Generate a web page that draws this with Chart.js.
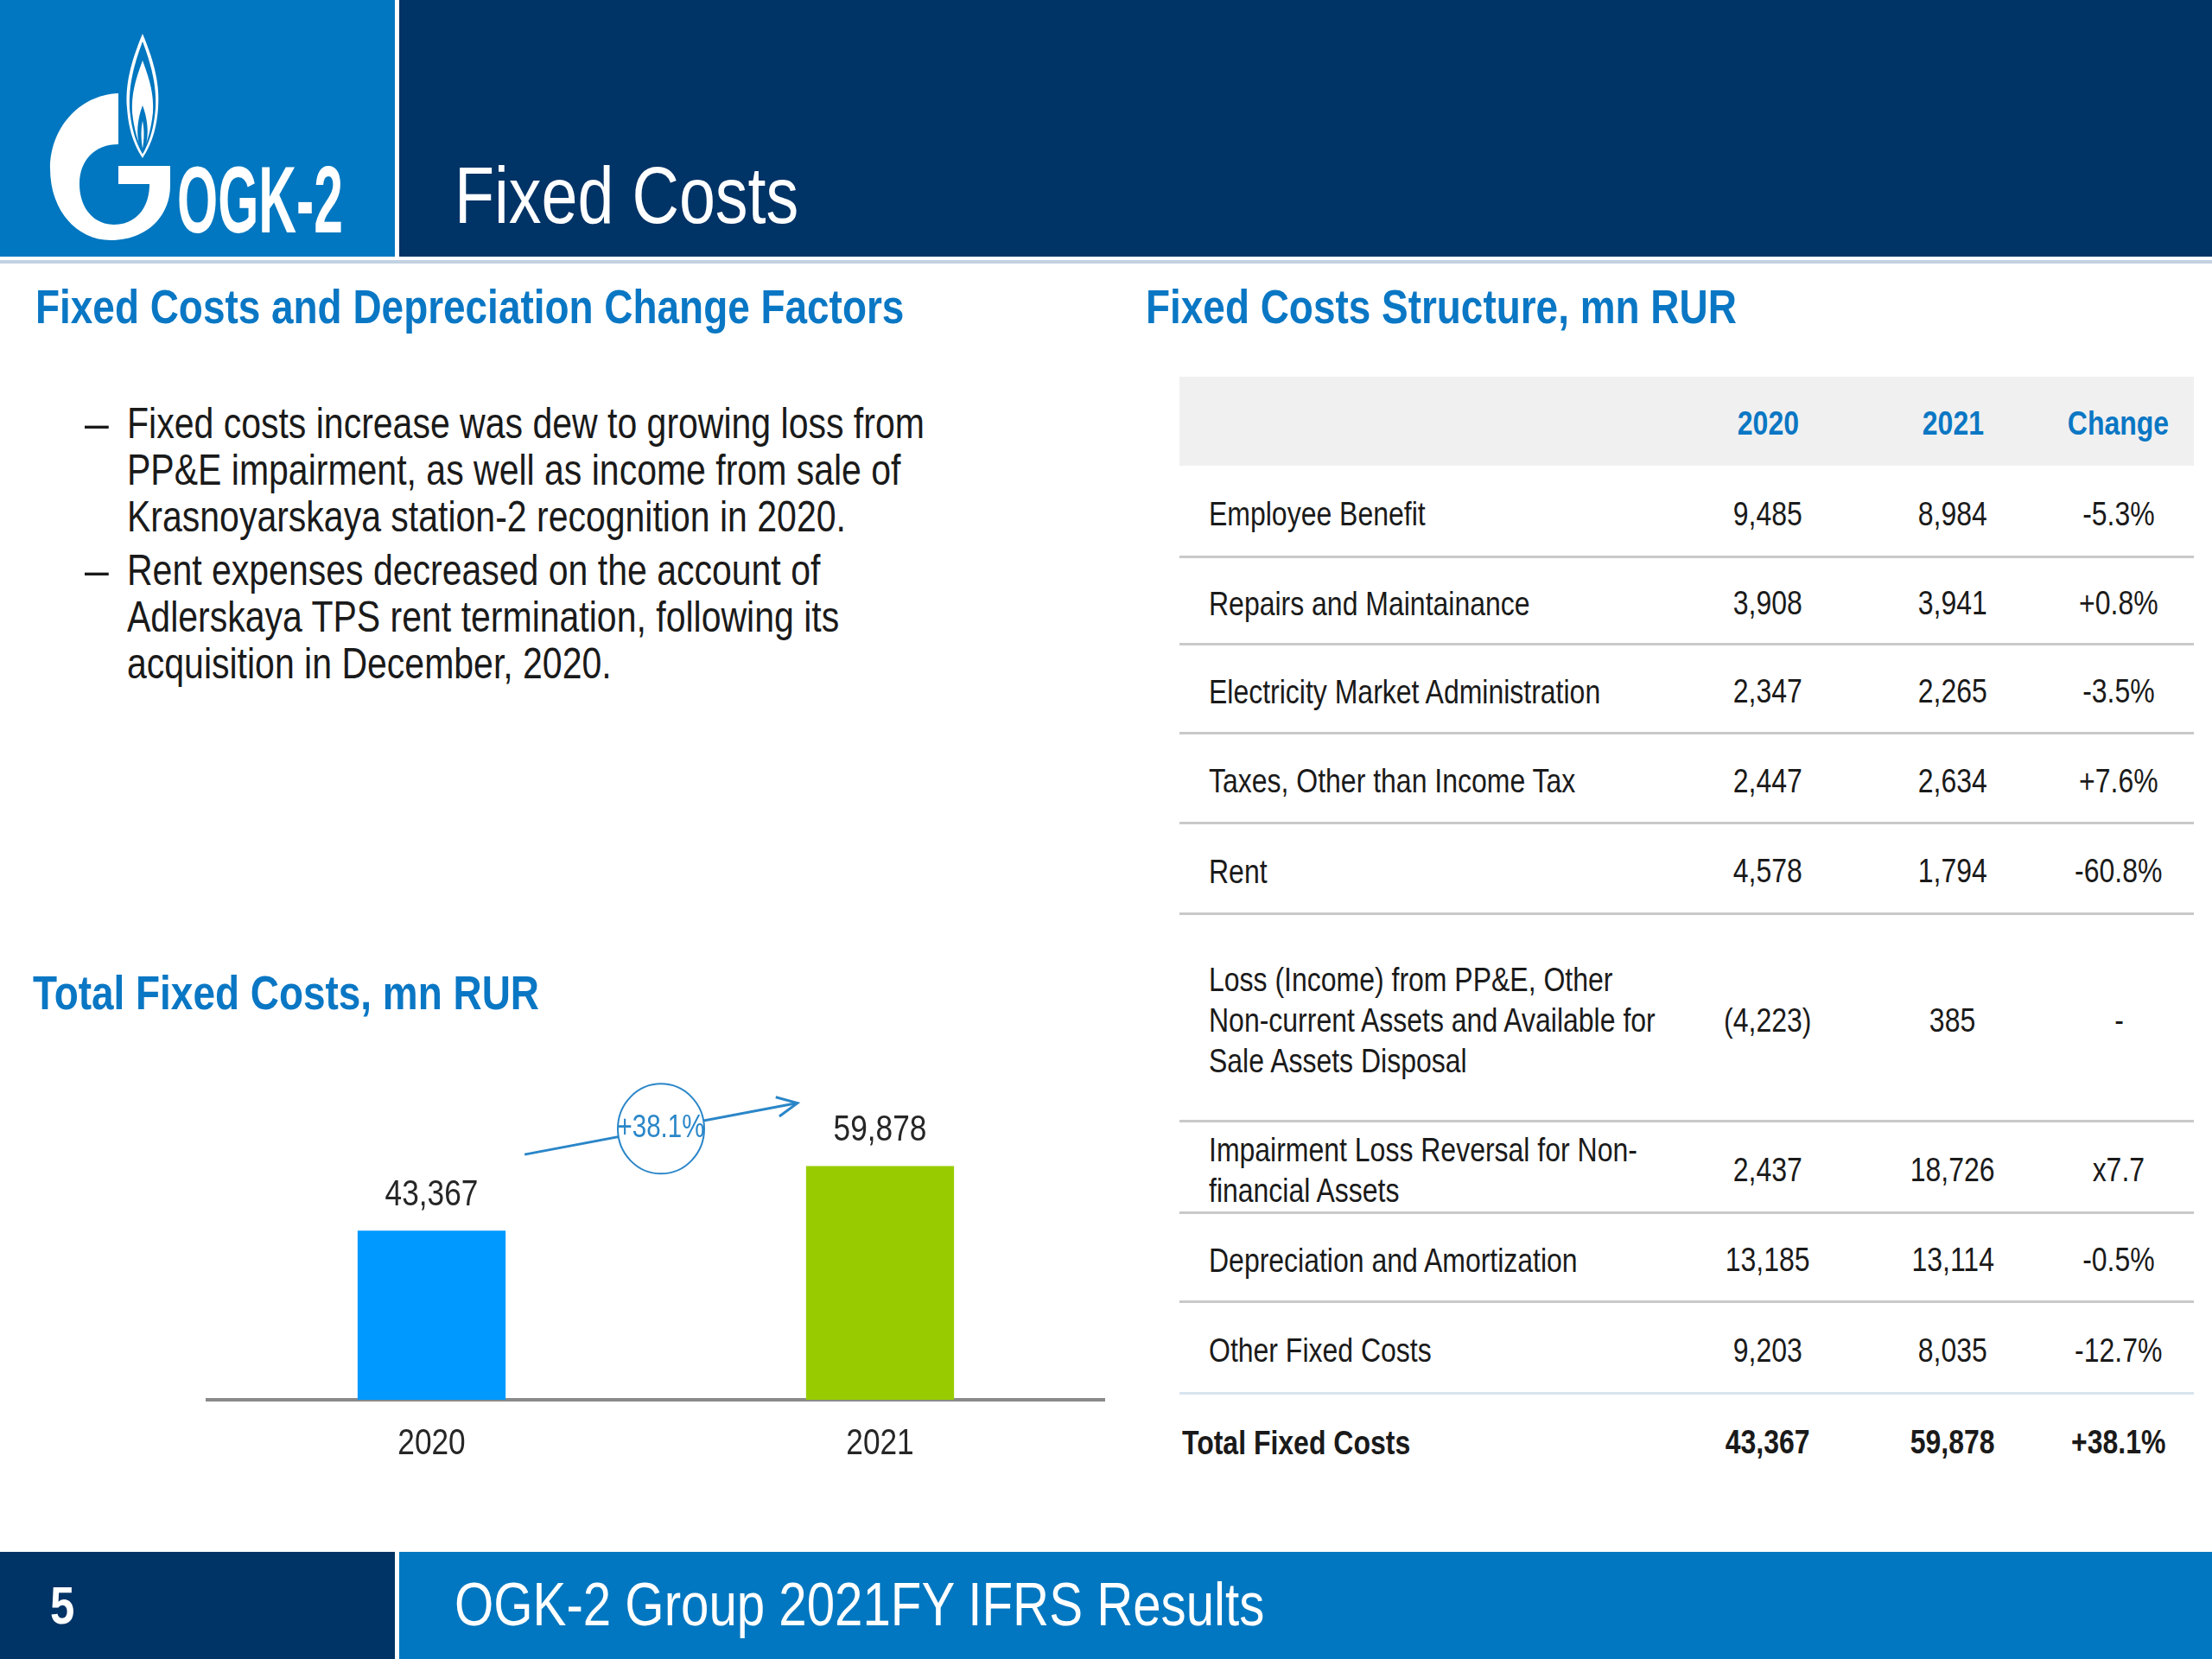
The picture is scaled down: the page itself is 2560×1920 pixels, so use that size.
<!DOCTYPE html>
<html>
<head>
<meta charset="utf-8">
<script src="https://cdn.jsdelivr.net/npm/chart.js@4.4.1/dist/chart.umd.min.js"></script>
<style>
  html, body { margin: 0; padding: 0; background: #fff; }
  body { width: 2560px; height: 1920px; position: relative; overflow: hidden;
         font-family: "Liberation Sans", Arial, sans-serif; color: #1a1a1a; }
  .abs { position: absolute; }
  /* Liberation Sans squeezed to look like Arial Narrow */
  .n { display: inline-block; transform: scaleX(0.82); transform-origin: left center; white-space: pre; }
  .blue-h { color: #0a77c4; font-weight: bold; font-size: 56px; white-space: nowrap; line-height: 1; }
  .bullets { left: 98px; top: 463px; width: 1300px; font-size: 50px; line-height: 54px; }
  .bullets > div { position: relative; padding-left: 49px; margin-bottom: 8px; }
  .bullets span.d { position: absolute; left: 0; top: 0; }
  .bullets .n { white-space: pre-line; }
  .row { position: absolute; left: 1365px; width: 1174px; display: flex; align-items: center; font-size: 39px;
         padding-top: 5px; box-sizing: border-box; }
  .row .lab { position: absolute; left: 34px; line-height: 47px; }
  .row .c { position: absolute; width: 200px; margin-left: -100px; text-align: center; }
  .row .c .n { transform-origin: center center; }
</style>
</head>
<body>
<!-- header -->
<div class="abs" style="left:0;top:0;width:457px;height:297px;background:#0077c0"></div>
<div class="abs" style="left:462px;top:0;width:2098px;height:297px;background:#003366"></div>
<div class="abs" style="left:0;top:301px;width:2560px;height:4px;background:#c3d2e2"></div>
<svg class="abs" style="left:0;top:0" width="457" height="297" viewBox="0 0 457 297">
  <!-- flame -->
  <path d="M165 39 C150 75 145 100 147 125 C149 155 158 172 165 183 C172 172 181 155 183 125 C185 100 180 75 165 39 Z" fill="#fff"/>
  <path d="M165 48 C153 80 149 102 150 125 C152 152 159 168 165 178 C171 168 178 152 180 125 C181 102 177 80 165 48 Z" fill="#0077c0"/>
  <path d="M165 70 C156 94 152 110 153 130 C155 150 160 165 165 176 C170 165 175 150 177 130 C178 110 174 94 165 70 Z" fill="#fff"/>
  <path d="M165 122 C160 135 158 150 160 162 C161 170 163 175 165 178 C167 175 169 170 170 162 C172 150 170 135 165 122 Z" fill="#0077c0"/>
  <path d="M165 140 C163 150 163 160 165 172 C167 160 167 150 165 140 Z" fill="#fff"/>
  <!-- G -->
  <path d="M137 108 C90 110 58 150 58 195 C58 245 90 278 128 278 C170 278 197 250 197 215 L197 192 L137 192 L137 213 L173 213 C173 242 156 260 132 260 C108 260 92 240 92 213 C92 185 110 167 137 167 Z" fill="#fff"/>
</svg>
<div class="abs" style="left:205px;top:177px;color:#fff;font-weight:bold;font-size:109px;line-height:1;white-space:nowrap"><span class="n" style="transform:scaleX(0.556)">OGK-2</span></div>
<div class="abs" style="left:526px;top:180px;color:#fff;font-size:92px;line-height:1"><span class="n">Fixed Costs</span></div>

<!-- left section -->
<div class="abs blue-h" style="left:41px;top:327px"><span class="n">Fixed Costs and Depreciation Change Factors</span></div>
<div class="abs bullets" id="bullets"></div>
<div class="abs blue-h" style="left:38px;top:1121px"><span class="n">Total Fixed Costs, mn RUR</span></div>
<div class="abs" style="left:200px;top:1200px;width:1120px;height:500px"><canvas id="chart"></canvas></div>

<!-- right section -->
<div class="abs blue-h" style="left:1326px;top:327px"><span class="n">Fixed Costs Structure, mn RUR</span></div>
<div class="abs" style="left:1365px;top:436px;width:1174px;height:103px;background:#f0f0f0"></div>
<div id="table"></div>

<!-- footer -->
<div class="abs" style="left:0;top:1796px;width:457px;height:124px;background:#003366"></div>
<div class="abs" style="left:462px;top:1796px;width:2098px;height:124px;background:#0077c0"></div>
<div class="abs" style="left:58px;top:1827px;color:#fff;font-weight:bold;font-size:62px;line-height:1"><span class="n">5</span></div>
<div class="abs" style="left:526px;top:1821px;color:#fff;font-size:71px;line-height:1"><span class="n">OGK-2 Group 2021FY IFRS Results</span></div>

<script>
// chart data
const years = ['2020', '2021'];
const totalFixedCosts = [43367, 59878];
const barColors = ['#0099ff', '#99cc00'];
const totalChange = '+38.1%';

// table data
const tableHeader = ['2020', '2021', 'Change'];
const rowLabels = [
  'Employee Benefit',
  'Repairs and Maintainance',
  'Electricity Market Administration',
  'Taxes, Other than Income Tax',
  'Rent',
  'Loss (Income) from PP&E, Other\nNon-current Assets and Available for\nSale Assets Disposal',
  'Impairment Loss Reversal for Non-\nfinancial Assets',
  'Depreciation and Amortization',
  'Other Fixed Costs'
];
const values2020 = [9485, 3908, 2347, 2447, 4578, -4223, 2437, 13185, 9203];
const values2021 = [8984, 3941, 2265, 2634, 1794, 385, 18726, 13114, 8035];
const changes = ['-5.3%', '+0.8%', '-3.5%', '+7.6%', '-60.8%', '-', 'x7.7', '-0.5%', '-12.7%'];

const bulletLines = [
  'Fixed costs increase was dew to growing loss from\nPP&E impairment, as well as income from sale of\nKrasnoyarskaya station-2 recognition in 2020.',
  'Rent expenses decreased on the account of\nAdlerskaya TPS rent termination, following its\nacquisition in December, 2020.'
];

const fmt = v => v < 0 ? '(' + Math.abs(v).toLocaleString('en-US') + ')' : v.toLocaleString('en-US');
const narrow = t => { const s = document.createElement('span'); s.className = 'n'; s.textContent = t; return s; };

// bullets
const bl = document.getElementById('bullets');
bulletLines.forEach(t => {
  const d = document.createElement('div');
  const dash = document.createElement('span');
  dash.className = 'd';
  dash.textContent = '\u2013';
  d.appendChild(dash);
  d.appendChild(narrow(t));
  bl.appendChild(d);
});

// table
const colX = [681, 895, 1087];
const rowHeights = [106, 101, 103, 104, 105, 240, 106, 103, 106, 107];
const tbl = document.getElementById('table');
function addRow(top, h, label, cells, opts) {
  const r = document.createElement('div');
  r.className = 'row';
  r.style.top = top + 'px';
  r.style.height = h + 'px';
  if (opts.color) r.style.color = opts.color;
  if (opts.bold) r.style.fontWeight = 'bold';
  const lab = document.createElement('div');
  lab.className = 'lab';
  lab.style.left = (opts.labLeft || 34) + 'px';
  lab.appendChild(narrow(label));
  r.appendChild(lab);
  cells.forEach((c, i) => {
    const s = document.createElement('div');
    s.className = 'c';
    s.style.left = colX[i] + 'px';
    s.appendChild(narrow(c));
    r.appendChild(s);
  });
  tbl.appendChild(r);
  if (opts.line) {
    const l = document.createElement('div');
    l.className = 'abs';
    l.style.cssText = 'left:1365px;width:1174px;height:3px;top:' + (top + h - 2) + 'px;background:' + opts.line;
    tbl.appendChild(l);
  }
}
addRow(436, 103, '', tableHeader, { color: '#0a77c4', bold: true });
let y = 539;
rowLabels.forEach((lab, i) => {
  const h = rowHeights[i];
  addRow(y, h, lab, [fmt(values2020[i]), fmt(values2021[i]), changes[i]],
    { line: i === rowLabels.length - 1 ? '#d8e4ee' : '#c9c9c9' });
  y += h;
});
addRow(y, rowHeights[rowLabels.length], 'Total Fixed Costs',
  [fmt(totalFixedCosts[0]), fmt(totalFixedCosts[1]), totalChange], { bold: true, labLeft: 3 });

// bar chart
function narrowText(ctx, text, x, y) {
  ctx.save();
  ctx.translate(x, y);
  ctx.scale(0.82, 1);
  ctx.fillText(text, 0, 0);
  ctx.restore();
}

const labelsPlugin = {
  id: 'labelsPlugin',
  afterDatasetsDraw(chart) {
    const ctx = chart.ctx;
    const meta = chart.getDatasetMeta(0);
    const xs = chart.scales.x;
    ctx.save();
    ctx.font = '43px "Liberation Sans", sans-serif';
    ctx.fillStyle = '#262626';
    ctx.textAlign = 'center';
    ctx.textBaseline = 'middle';
    meta.data.forEach((el, i) => {
      narrowText(ctx, fmt(totalFixedCosts[i]), el.x, el.y - 41);
    });
    // category labels under the axis
    years.forEach((lab, i) => {
      narrowText(ctx, lab, xs.getPixelForTick(i), chart.chartArea.bottom + 51);
    });
    // growth arrow with circle
    const b0 = meta.data[0], b1 = meta.data[1];
    const x0 = b0.x + b0.width / 2 + 22, y0 = b0.y - 88;
    const x1 = b1.x - b1.width / 2 - 10, y1 = b1.y - 73;
    ctx.strokeStyle = '#2a86c8';
    ctx.lineWidth = 3;
    ctx.beginPath();
    ctx.moveTo(x0, y0);
    ctx.lineTo(x1, y1);
    ctx.stroke();
    const ang = Math.atan2(y1 - y0, x1 - x0);
    ctx.beginPath();
    ctx.moveTo(x1 - 26 * Math.cos(ang - 0.45), y1 - 26 * Math.sin(ang - 0.45));
    ctx.lineTo(x1, y1);
    ctx.lineTo(x1 - 26 * Math.cos(ang + 0.45), y1 - 26 * Math.sin(ang + 0.45));
    ctx.stroke();
    const cx = (x0 + x1) / 2, cy = (y0 + y1) / 2;
    ctx.beginPath();
    ctx.ellipse(cx, cy, 50, 52, 0, 0, Math.PI * 2);
    ctx.fillStyle = '#fff';
    ctx.fill();
    ctx.lineWidth = 2;
    ctx.stroke();
    ctx.fillStyle = '#2a86c8';
    ctx.font = '36px "Liberation Sans", sans-serif';
    narrowText(ctx, totalChange, cx, cy);
    ctx.restore();
  }
};

new Chart(document.getElementById('chart'), {
  type: 'bar',
  data: {
    labels: years,
    datasets: [{
      data: totalFixedCosts,
      backgroundColor: barColors,
      barPercentage: 0.33,
      categoryPercentage: 1
    }]
  },
  options: {
    responsive: true,
    maintainAspectRatio: false,
    devicePixelRatio: 1,
    animation: false,
    layout: { padding: { left: 40, right: 42, top: 0, bottom: 0 } },
    plugins: { legend: { display: false }, tooltip: { enabled: false } },
    scales: {
      x: {
        grid: { display: false },
        border: { display: true, color: '#8a8a8a', width: 4 },
        ticks: { display: false },
        afterFit(scale) { scale.height = 80; }
      },
      y: { display: false, min: 0, max: 93000 }
    }
  },
  plugins: [labelsPlugin]
});
</script>
</body>
</html>
